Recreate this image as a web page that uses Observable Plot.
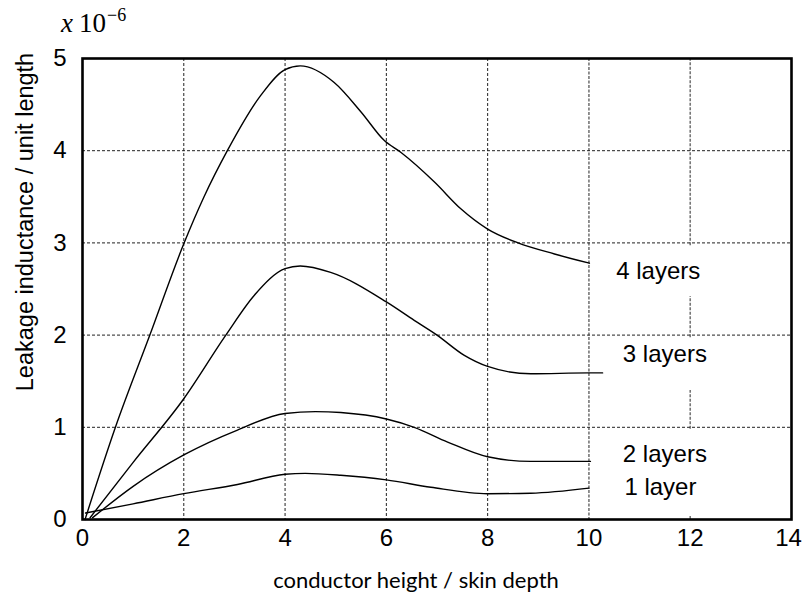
<!DOCTYPE html>
<html><head><meta charset="utf-8">
<script src="https://cdn.jsdelivr.net/npm/d3@7"></script>
<script src="https://cdn.jsdelivr.net/npm/@observablehq/plot@0.6"></script>
<style>
body{margin:0;background:#fff}
#wrap{position:relative;width:802px;height:599px}
#mult{position:absolute;left:61px;top:8px;font-family:"Liberation Serif",serif;font-size:27px;line-height:30px;white-space:nowrap}
#mult i{margin-right:6px}
#mult sup{font-size:18px;vertical-align:top;position:relative;top:-8px;margin-left:1px}
</style>
</head><body>
<div id="wrap"><div id="mult"><i>x</i>10<sup>−6</sup></div></div>
<script>
const xTicks = [0, 2, 4, 6, 8, 10, 12, 14];
const yTicks = [0, 1, 2, 3, 4, 5];
const xGrid = [2, 4, 6, 8];
const xGridGrey = [10];
const yGrid = [1, 2, 3, 4];
const x12Spans = [[2.97, 5], [1.97, 2.42], [0.98, 1.4], [0, 0.04]];

const layer1 = [[0.06,0.07],[1,0.17],[2,0.28],[3.06,0.38],[4,0.49],[4.4,0.50],[5.1,0.48],[6,0.43],[6.88,0.35],[8,0.28],[8.85,0.285],[10,0.34]];
const layer2 = [[0.2,0.02],[1,0.36],[2,0.70],[3.06,0.97],[4,1.15],[4.6,1.17],[5.1,1.16],[6,1.09],[6.55,1.0],[7.21,0.84],[8,0.68],[8.85,0.63],[10.03,0.63]];
const layer3 = [[0.15,0.02],[1,0.62],[2,1.31],[2.83,2.0],[3.39,2.43],[4,2.72],[4.3,2.75],[4.9,2.68],[6,2.36],[6.55,2.16],[7.0,2.0],[7.54,1.78],[8,1.66],[8.85,1.58],[10,1.59],[10.27,1.59]];
const layer4 = [[0.05,0.0],[0.65,1.0],[1.33,2.0],[2,2.99],[2.4,3.5],[2.86,4.0],[3.52,4.6],[4,4.88],[4.3,4.92],[4.97,4.74],[5.5,4.42],[5.96,4.11],[6.29,3.98],[6.95,3.66],[7.47,3.37],[8,3.15],[8.6,3.0],[9.32,2.88],[10.01,2.78]];

const labelText = ["4 layers", "3 layers", "2 layers", "1 layer"];
const labelX = [10.54, 10.67, 10.67, 10.7];
const labelY = [2.69, 1.79, 0.71, 0.35];

const series = [layer1, layer2, layer3, layer4];
const labels = labelText.map((t, i) => ({t, x: labelX[i], y: labelY[i]}));
const spans = x12Spans.map(([a, b]) => ({x: 12, y1: a, y2: b}));
const lastX = xTicks[xTicks.length - 1];

const plot = Plot.plot({
  width: 802, height: 599,
  marginLeft: 82, marginRight: 11, marginTop: 58, marginBottom: 80,
  style: {fontFamily: "'Liberation Sans', Arial, sans-serif", fontSize: "24px", color: "#000", background: "#fff", overflow: "visible"},
  x: {domain: [0, 14]},
  y: {domain: [0, 5]},
  marks: [
    Plot.ruleX(xGrid, {stroke: "#222", strokeWidth: 1, strokeDasharray: "3,2"}),
    Plot.ruleX(xGridGrey, {stroke: "#777", strokeWidth: 1.6, strokeDasharray: "3,1.5"}),
    Plot.ruleX(spans, {x: "x", y1: "y1", y2: "y2", stroke: "#777", strokeWidth: 1.6, strokeDasharray: "3,1.5"}),
    Plot.ruleY(yGrid, {stroke: "#222", strokeWidth: 1, strokeDasharray: "3,2"}),
    ...series.map(s => Plot.line(s, {x: d => d[0], y: d => d[1], curve: "monotone-x", stroke: "#000", strokeWidth: 1.4})),
    Plot.text(labels, {x: "x", y: "y", text: "t", textAnchor: "start", fontSize: 24, fill: "#000"}),
    Plot.axisX(xTicks.filter(d => d !== lastX), {tickSize: 0, tickPadding: 9, label: null, fontSize: 24, tickFormat: d3.format("d")}),
    Plot.axisX([lastX], {tickSize: 0, tickPadding: 9, label: null, fontSize: 24, tickFormat: d3.format("d"), dx: -3}),
    Plot.axisY(yTicks, {tickSize: 0, tickPadding: 16, label: null, fontSize: 24, tickFormat: d3.format("d")}),
    Plot.frame({stroke: "#000", strokeWidth: 2.6})
  ]
});

const svg = d3.select(plot);
svg.append("text")
  .attr("x", 416).attr("y", 588)
  .attr("text-anchor", "middle")
  .style("font-family", "Lato, 'Open Sans', sans-serif")
  .style("font-size", "22px")
  .attr("fill", "#000")
  .text("conductor height / skin depth");
svg.append("text")
  .attr("transform", "translate(33,222) rotate(-90)")
  .attr("text-anchor", "middle")
  .style("font-family", "'Liberation Sans', Arial, sans-serif")
  .style("font-size", "23.5px")
  .attr("fill", "#000")
  .text("Leakage inductance / unit length");

document.getElementById("wrap").prepend(plot);
</script>
</body></html>
